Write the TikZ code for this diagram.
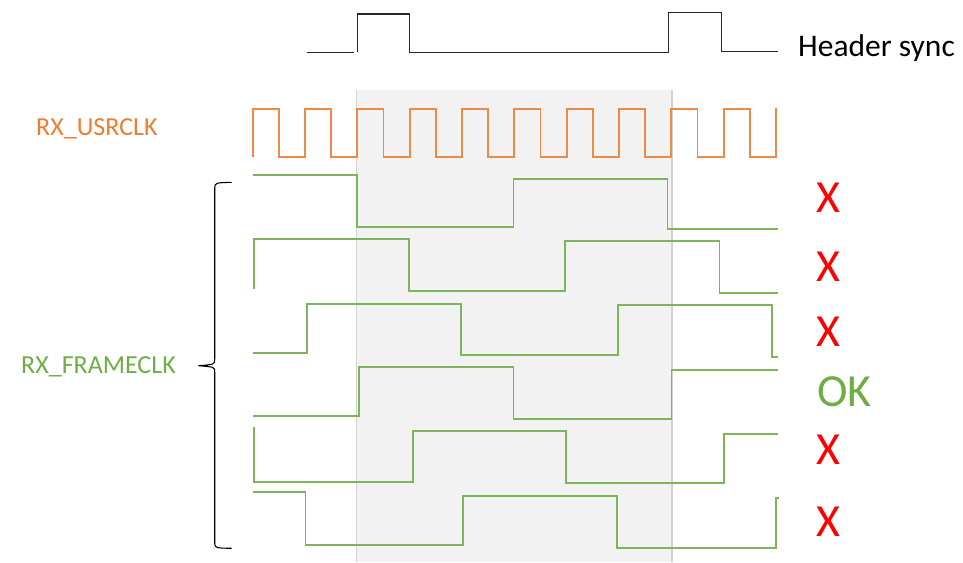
\documentclass[tikz,border=0pt]{standalone}
\usepackage{fontspec}
\setmainfont{Carlito}
\definecolor{clkorange}{HTML}{ED7D31}
\definecolor{frmgreen}{HTML}{70AD47}
\definecolor{winshade}{HTML}{F2F2F2}
\definecolor{winedge}{HTML}{D2D2D2}
\definecolor{badred}{HTML}{FF0000}

\begin{document}
\begin{tikzpicture}[x=1pt,y=-1pt,
  syncwave/.style={line width=1.1pt, black!85},
  clkwave/.style={line width=1.8pt, clkorange!90},
  frmwave/.style={line width=1.7pt, frmgreen!90},
  verdict/.style={inner sep=0pt, anchor=west, font=\fontsize{46}{50}\selectfont},
  siglabel/.style={inner sep=0pt, anchor=base west, font=\fontsize{26}{30}\selectfont}]
\useasboundingbox (0,0) rectangle (963,562);
% alignment window
\fill[winshade] (356.7,90) rectangle (672,562);
\draw[winedge, line width=1.3pt] (356.7,90) -- (356.7,562);
\draw[winedge, line width=1.3pt] (672,90) -- (672,562);
% header sync
\draw[syncwave] (306.8,52.3) -- (354.3,52.3);
\draw[syncwave] (357.3,52.3) -- (357.3,14) -- (409.3,14) -- (409.3,52.3) -- (668.6,52.3)
  -- (668.6,12.7) -- (721.4,12.7) -- (721.4,51.3) -- (778,51.3);
\node[siglabel, font=\fontsize{31.5}{36}\selectfont] (sync) at (798,56.4) {Header sync};
% RX_USRCLK
\draw[clkwave] (252.6,157) -- (252.6,109) -- (278.8,109) -- (278.8,157)
  -- (304.9,157) -- (304.9,109) -- (331.1,109) -- (331.1,157)
  -- (357.3,157) -- (357.3,109) -- (383.5,109) -- (383.5,157)
  -- (409.6,157) -- (409.6,109) -- (435.8,109) -- (435.8,157)
  -- (462.0,157) -- (462.0,109) -- (488.2,109) -- (488.2,157)
  -- (514.3,157) -- (514.3,109) -- (540.5,109) -- (540.5,157)
  -- (566.6,157) -- (566.6,109) -- (592.8,109) -- (592.8,157)
  -- (619.0,157) -- (619.0,109) -- (645.2,109) -- (645.2,157)
  -- (671.3,157) -- (671.3,109) -- (697.5,109) -- (697.5,157)
  -- (723.7,157) -- (723.7,109) -- (749.9,109) -- (749.9,157)
  -- (776.0,157) -- (776.0,109) -- (777,109);
\node[siglabel, text=clkorange] (usrclk) at (36,135) {RX\_USRCLK};
% RX_FRAMECLK phases
\draw[frmwave] (252.5,175) -- (356.8,175) -- (356.8,227.3) -- (513.6,227.3) -- (513.6,179.3)
  -- (667.5,179.3) -- (667.5,229.3) -- (778,229.3);
\draw[frmwave] (252.5,288.3) -- (254.3,288.3) -- (254.3,239.3) -- (409,239.3) -- (409,291)
  -- (565,291) -- (565,241) -- (719.6,241) -- (719.6,293.3) -- (778,293.3);
\draw[frmwave] (252.5,353.3) -- (306.8,353.3) -- (306.8,303.7) -- (460.7,303.7) -- (460.7,354.7)
  -- (617.9,354.7) -- (617.9,305.3) -- (772,305.3) -- (772,357.3) -- (778,357.3);
\draw[frmwave] (252.5,415.7) -- (358.9,415.7) -- (358.9,367.3) -- (513.6,367.3) -- (513.6,419.3)
  -- (671.4,419.3) -- (671.4,370) -- (778,370);
\draw[frmwave] (252.5,427.7) -- (254.3,427.7) -- (254.3,481.7) -- (413.2,481.7) -- (413.2,431.3)
  -- (565.7,431.3) -- (565.7,483.3) -- (724,483.3) -- (724,433.7) -- (778,433.7);
\draw[frmwave] (252.5,491.7) -- (305.4,491.7) -- (305.4,545.3) -- (463.2,545.3) -- (463.2,495.7)
  -- (617,495.7) -- (617,547.7) -- (776,547.7) -- (776,497.7) -- (778.7,497.7);
% brace
\coordinate (BT) at (231.7,182.3);
\coordinate (BM) at (198.3,365.7);
\coordinate (BB) at (231.7,548.3);
\draw[line width=1.1pt] (BT) .. controls (215,182.8) .. (214.7,188) -- (214.7,359)
  .. controls (214.7,364.5) .. (BM) .. controls (214.7,367) .. (214.7,372) -- (214.7,543)
  .. controls (215,548) .. (BB);
\node[siglabel, text=frmgreen] (frameclk) at (21,373.3) {RX\_FRAMECLK};
% verdicts
\node[verdict, text=badred] (v1) at (816.5,197.7) {X};
\node[verdict, text=badred] (v2) at (816.5,266.7) {X};
\node[verdict, text=badred] (v3) at (816.5,332) {X};
\node[verdict, text=frmgreen] (v4) at (817,392) {OK};
\node[verdict, text=badred] (v5) at (816.5,450) {X};
\node[verdict, text=badred] (v6) at (816.5,522) {X};
\end{tikzpicture}
\end{document}
